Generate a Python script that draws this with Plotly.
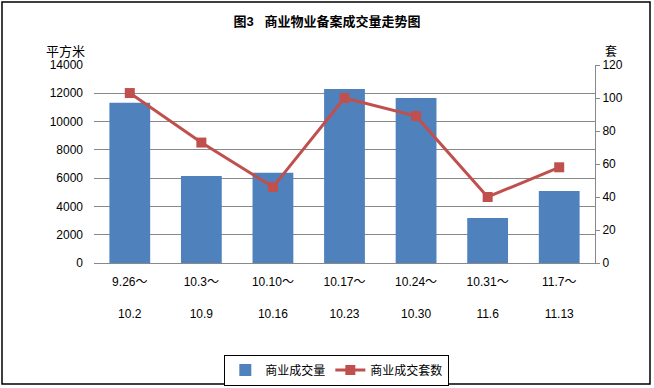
import plotly.graph_objects as go

periods_start = ["9.26～", "10.3～", "10.10～", "10.17～", "10.24～", "10.31～", "11.7～"]
periods_end = ["10.2", "10.9", "10.16", "10.23", "10.30", "11.6", "11.13"]
area_values = [11330, 6150, 6390, 12300, 11660, 3180, 5090]
unit_values = [103, 73, 46, 100, 89, 40, 58]
left_ticks = [0, 2000, 4000, 6000, 8000, 10000, 12000, 14000]
right_ticks = [0, 20, 40, 60, 80, 100, 120]

cats = list(range(len(periods_start)))
ticktext = [a + "<br><br>" + b for a, b in zip(periods_start, periods_end)]

FONT = "Liberation Sans, Noto Sans CJK SC, sans-serif"

fig = go.Figure()
fig.add_trace(go.Bar(
    x=cats, y=area_values, name="商业成交量",
    marker=dict(color="#4F81BD", line=dict(width=0)),
    yaxis="y",
))
fig.add_trace(go.Scatter(
    x=cats, y=unit_values, name="商业成交套数", mode="lines+markers",
    line=dict(color="#C0504D", width=3),
    marker=dict(symbol="square", size=10, color="#C0504D"),
    yaxis="y2",
))

L, R, T, B = 94, 59, 65, 125
W, H = 654, 388
pw, ph = W - L - R, H - T - B

def px_x(x):
    return (x - L) / pw

def px_y(y):
    return (H - B - y) / ph

fig.update_layout(
    width=W, height=H,
    margin=dict(l=L, r=R, t=T, b=B, autoexpand=False),
    paper_bgcolor="white", plot_bgcolor="white",
    font=dict(family=FONT, size=12, color="black"),
    bargap=0.43,
    showlegend=True,
    legend=dict(
        orientation="h", x=0.515, xanchor="center", xref="container",
        y=1 - 370 / H, yanchor="middle", yref="container",
        bordercolor="black", borderwidth=1, font=dict(size=12),
        itemwidth=30, tracegroupgap=0,
    ),
    xaxis=dict(
        tickmode="array", tickvals=cats, ticktext=ticktext,
        range=[-0.5, len(cats) - 0.5], automargin=False,
        showgrid=False, showline=True, linecolor="#888888", linewidth=1,
        ticks="", tickfont=dict(size=12), zeroline=False,
        ticklabelstandoff=8,
    ),
    yaxis=dict(
        range=[0, 14000], tickmode="array", tickvals=left_ticks,
        ticktext=[str(v) for v in left_ticks], automargin=False,
        showgrid=True, gridcolor="#888888", gridwidth=1,
        showline=False, ticks="", zeroline=False, tickfont=dict(size=12),
        ticklabelstandoff=10,
    ),
    yaxis2=dict(
        range=[0, 120], tickmode="array", tickvals=right_ticks,
        ticktext=[str(v) for v in right_ticks], automargin=False,
        overlaying="y", side="right", showgrid=False,
        showline=True, linecolor="#888888", linewidth=1,
        ticks="outside", ticklen=4, tickcolor="#888888",
        zeroline=False, tickfont=dict(size=12),
    ),
    title=dict(text="<b>图3   商业物业备案成交量走势图</b>", x=0.5, xref="container",
               y=1 - 21 / H, yref="container", yanchor="middle", xanchor="center",
               font=dict(size=13)),
    shapes=[dict(type="rect", xref="paper", yref="paper",
                 x0=px_x(2), x1=px_x(650), y0=px_y(384), y1=px_y(2),
                 line=dict(color="black", width=1.5))],
    annotations=[
        dict(text="平方米", x=px_x(44), y=px_y(42), xref="paper", yref="paper",
             showarrow=False, font=dict(size=13)),
        dict(text="套", x=px_x(619), y=px_y(43), xref="paper", yref="paper",
             showarrow=False, font=dict(size=12)),
    ],
)
fig.write_html("out.html", config={"displayModeBar": False},
               post_script="document.body.style.margin='0';")
